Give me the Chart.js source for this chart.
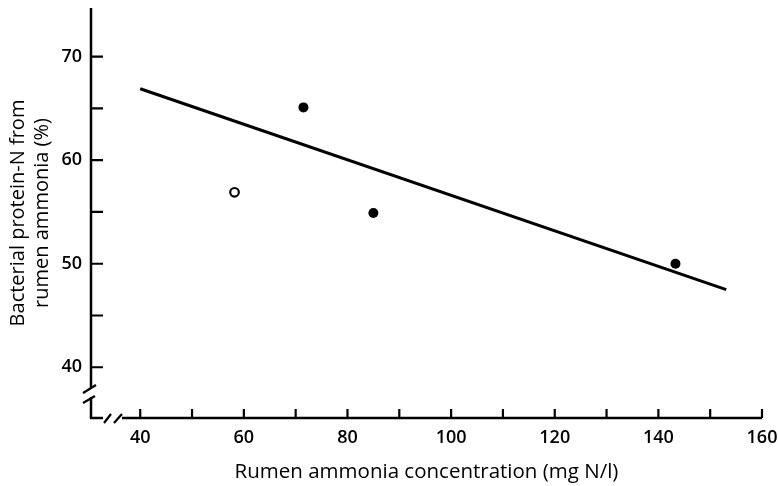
<!DOCTYPE html>
<html>
<head>
<meta charset="utf-8">
<script src="https://cdn.jsdelivr.net/npm/chart.js@4.4.1/dist/chart.umd.min.js"></script>
<style>
  html, body { margin: 0; padding: 0; background: #fff; }
  #wrap { width: 778px; height: 486px; position: relative; }
</style>
</head>
<body>
<div id="wrap"><canvas id="chart"></canvas></div>
<script>
// data
const filledX = [71.5, 85.0, 143.3];
const filledY = [65.1, 54.9, 50.0];
const openX = [58.2];
const openY = [56.9];
const fitX = [40, 153.1];
const fitY = [66.9, 47.5];

// axis ticks
const xLabelTicks = [40, 60, 80, 100, 120, 140, 160];
const xTickMarks = [40, 50, 60, 70, 80, 90, 100, 110, 120, 130, 140, 150, 160];
const yLabelTicks = [40, 50, 60, 70];
const yTickMarks = [40, 45, 50, 55, 60, 65, 70];

const FONT = "'Open Sans'";
const INK = "#000";

const pts = (xs, ys) => xs.map((x, i) => ({ x: x, y: ys[i] }));

// hand drawn looking axes with the break marks
const axesPlugin = {
  id: "axesPlugin",
  afterDraw(chart) {
    const ctx = chart.ctx;
    const a = chart.chartArea;
    const xs = chart.scales.x, ys = chart.scales.y;
    const x0 = a.left, y0 = a.bottom;
    ctx.save();
    ctx.strokeStyle = INK;
    ctx.lineWidth = 2.5;
    ctx.lineCap = "butt";
    ctx.beginPath();
    // y axis, broken near the bottom
    ctx.moveTo(x0, a.top);
    ctx.lineTo(x0, y0 - 30);
    ctx.moveTo(x0, y0 - 21);
    ctx.lineTo(x0, y0 + 1);
    // x axis, broken near the left
    ctx.moveTo(x0 - 1, y0);
    ctx.lineTo(x0 + 12, y0);
    ctx.moveTo(x0 + 31, y0);
    ctx.lineTo(a.right, y0);
    ctx.stroke();

    ctx.lineWidth = 2.2;
    ctx.beginPath();
    // slashes on y axis
    ctx.moveTo(x0 - 8, y0 - 25);
    ctx.lineTo(x0 + 5, y0 - 33);
    ctx.moveTo(x0 - 8, y0 - 15);
    ctx.lineTo(x0 + 4, y0 - 22);
    // slashes on x axis
    ctx.moveTo(x0 + 13, y0 + 5);
    ctx.lineTo(x0 + 20, y0 - 4);
    ctx.moveTo(x0 + 23, y0 + 5);
    ctx.lineTo(x0 + 31, y0 - 4);
    ctx.stroke();

    // inward tick marks
    ctx.beginPath();
    yTickMarks.forEach((v) => {
      const py = ys.getPixelForValue(v);
      ctx.moveTo(x0, py);
      ctx.lineTo(x0 + 12, py);
    });
    xTickMarks.forEach((v) => {
      const px = xs.getPixelForValue(v);
      ctx.moveTo(px, y0);
      ctx.lineTo(px, y0 - 9);
    });
    ctx.stroke();
    ctx.restore();
  },
};

new Chart(document.getElementById("chart"), {
  type: "scatter",
  data: {
    datasets: [
      {
        type: "line",
        label: "fit",
        data: pts(fitX, fitY),
        borderColor: INK,
        borderWidth: 3,
        pointRadius: 0,
        fill: false,
        order: 2,
      },
      {
        label: "filled",
        data: pts(filledX, filledY),
        pointRadius: 5,
        pointBackgroundColor: INK,
        pointBorderColor: INK,
        pointBorderWidth: 0,
        order: 1,
      },
      {
        label: "open",
        data: pts(openX, openY),
        pointRadius: 4.3,
        pointBackgroundColor: "#fff",
        pointBorderColor: INK,
        pointBorderWidth: 2.2,
        order: 1,
      },
    ],
  },
  options: {
    responsive: true,
    maintainAspectRatio: false,
    animation: false,
    layout: { padding: { left: 4, right: 16, top: 8, bottom: 0 } },
    plugins: { legend: { display: false }, tooltip: { enabled: false } },
    scales: {
      x: {
        type: "linear",
        min: 30.5,
        max: 160,
        grid: { display: false, drawTicks: false },
        border: { display: false },
        afterBuildTicks: (s) => { s.ticks = xLabelTicks.map((v) => ({ value: v })); },
        afterFit: (s) => { s.height = 68; s.paddingLeft = 0; s.paddingRight = 0; },
        ticks: { color: INK, font: { family: FONT, size: 18, weight: "600" }, padding: 9, maxRotation: 0 },
        title: {
          display: true,
          text: "Rumen ammonia concentration (mg N/l)",
          color: INK,
          font: { family: FONT, size: 20.5 },
          padding: { top: 0, bottom: 2 },
        },
      },
      y: {
        type: "linear",
        min: 35.1,
        max: 74.7,
        grid: { display: false, drawTicks: false },
        border: { display: false },
        afterBuildTicks: (s) => { s.ticks = yLabelTicks.map((v) => ({ value: v })); },
        afterFit: (s) => { s.width = 87; s.paddingTop = 0; s.paddingBottom = 0; },
        ticks: { color: INK, font: { family: FONT, size: 18, weight: "600" }, padding: 9 },
        title: {
          display: true,
          text: ["Bacterial protein-N from", "rumen ammonia (%)"],
          color: INK,
          font: { family: FONT, size: 20, lineHeight: 1.2 },
          padding: { top: 2, bottom: 0 },
        },
      },
    },
  },
  plugins: [axesPlugin],
});
</script>
</body>
</html>
